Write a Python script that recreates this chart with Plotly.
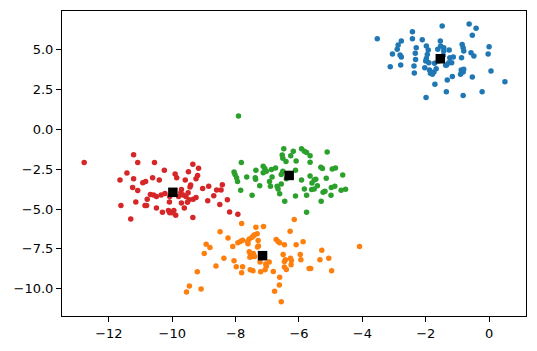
import plotly.graph_objects as go

# Cluster 0 (blue)
blue_x = [-3.53, -2.42, -1.48, -0.63, -0.41, -0.53, -2.42, -2.11, -2.77, -2.87, -2.90, -3.05, -2.81, -2.77,
          -3.12, -2.79, -2.37, -2.36, -2.30, -2.33, -2.32, -1.98, -1.92, -1.99, -1.71, -1.54, -1.53, -1.43,
          -1.62, -1.26, -1.24, -1.13, -1.18, -1.27, -1.34, -0.87, -0.85, -0.82, -0.80, -0.57, -0.48, 0.00,
          -0.03, -0.88, -0.82, -0.90, -0.80, -1.16, -1.32, -0.53, 0.06, 0.50, -1.35, -0.82, -0.22, -1.98,
          -2.00, -1.90, -2.03, -1.88, -1.85, -1.74, -1.67, -1.79, -1.95, -1.37, -1.43, -1.60, -1.45, -1.72]
blue_y = [5.69, 6.13, 6.49, 6.63, 6.36, 5.92, 5.69, 5.63, 5.55, 5.30, 5.03, 4.74, 4.67, 4.55,
          3.94, 4.05, 3.99, 3.55, 5.13, 4.78, 4.40, 5.24, 4.99, 2.01, 2.84, 5.55, 5.24, 5.13,
          5.03, 4.99, 4.51, 4.55, 4.19, 4.19, 4.05, 4.51, 5.34, 5.13, 4.92, 4.82, 4.61, 5.19,
          4.74, 3.74, 3.61, 3.46, 3.78, 3.32, 3.11, 3.30, 3.67, 2.99, 2.36, 2.13, 2.36, 4.46,
          4.30, 4.19, 3.88, 3.74, 3.53, 3.61, 3.82, 3.46, 4.71, 4.03, 4.92, 4.30, 4.65, 4.15]

# Cluster 1 (orange)
orange_x = [-6.15, -6.28, -7.12, -7.36, -7.32, -7.40, -7.81, -8.49, -8.24, -8.09, -8.93, -8.81, -8.99,
            -8.37, -8.62, -9.21, -9.46, -9.55, -9.09, -8.05, -7.98, -7.78, -7.81, -7.54, -7.45, -7.21,
            -7.07, -7.03, -7.05, -6.94, -6.81, -6.61, -6.62, -6.77, -6.56, -6.46, -6.40, -6.46, -6.43,
            -6.50, -6.27, -6.24, -6.25, -5.94, -5.96, -6.09, -5.87, -5.68, -5.63, -5.34, -5.28, -5.06,
            -4.97, -4.09, -6.72, -6.66, -6.61, -6.46, -7.61, -7.57, -7.48, -7.44, -7.29, -7.31, -7.28,
            -7.62, -7.78, -7.85, -7.93, -7.57, -7.53, -7.48, -7.55, -7.44, -7.40, -7.23]
orange_y = [-5.66, -6.39, -6.09, -6.15, -6.55, -6.62, -5.91, -6.43, -6.82, -7.36, -7.22, -7.42, -7.79,
            -8.09, -8.58, -8.94, -9.83, -10.22, -10.03, -8.25, -8.62, -8.62, -9.00, -8.82, -8.88, -8.94,
            -8.82, -8.60, -8.46, -8.33, -8.92, -9.29, -9.77, -10.16, -10.82, -8.64, -8.80, -8.29, -8.19,
            -7.85, -8.09, -8.23, -8.50, -8.19, -7.85, -7.24, -7.06, -8.74, -8.74, -8.19, -7.59, -8.09,
            -8.88, -7.36, -6.92, -7.04, -7.12, -7.24, -7.18, -6.88, -6.78, -6.68, -6.98, -7.38, -7.32,
            -7.04, -6.96, -7.04, -7.12, -7.69, -7.85, -7.99, -8.03, -7.79, -7.99, -8.33]

# Cluster 2 (green)
green_x = [-7.91, -7.82, -8.05, -8.02, -7.97, -7.94, -7.65, -7.84, -7.48, -7.36, -7.38, -7.37, -7.13,
           -7.08, -7.03, -7.13, -7.24, -6.93, -6.90, -6.85, -6.87, -6.74, -6.69, -6.66, -6.61, -6.56,
           -6.56, -6.51, -6.48, -6.53, -6.51, -6.41, -6.26, -6.18, -6.09, -6.11, -6.11, -5.92, -5.83,
           -5.76, -5.65, -5.65, -5.92, -5.83, -5.76, -5.65, -5.59, -5.52, -5.47, -5.42, -5.52, -5.60,
           -5.31, -5.26, -5.14, -5.11, -4.95, -4.85, -4.87, -4.98, -5.24, -5.18, -4.99, -5.30, -4.62,
           -4.67, -4.53, -5.76, -6.45, -6.40]
green_y = [0.85, -2.08, -2.68, -2.83, -3.03, -3.27, -2.99, -3.82, -4.14, -2.56, -3.03, -3.13, -2.32,
           -2.46, -2.62, -2.72, -3.53, -3.27, -3.57, -2.99, -2.52, -2.42, -3.57, -3.74, -4.04, -3.43,
           -2.83, -2.62, -1.21, -1.61, -1.81, -2.02, -1.65, -1.37, -1.98, -2.56, -4.18, -1.21, -1.37,
           -1.45, -1.65, -2.06, -3.17, -3.74, -4.14, -2.93, -3.37, -3.17, -3.13, -3.53, -3.74, -3.78,
           -2.38, -2.46, -3.07, -1.41, -2.48, -2.42, -3.57, -3.64, -3.94, -3.88, -4.14, -4.51, -2.87,
           -3.82, -3.76, -5.21, -4.51, -3.10]

# Cluster 3 (red)
red_x = [-12.78, -11.22, -11.09, -10.56, -11.43, -11.65, -11.22, -11.25, -11.09, -10.93, -10.84, -10.62,
         -10.41, -10.25, -9.91, -9.86, -9.35, -9.17, -9.49, -9.20, -9.25, -9.59, -9.42, -9.44, -9.04,
         -8.85, -8.42, -8.60, -8.46, -8.69, -8.88, -8.26, -8.50, -8.19, -7.93, -9.35, -11.31, -11.62,
         -11.15, -10.86, -10.81, -10.50, -10.31, -10.12, -10.08, -10.00, -9.95, -9.89, -9.62, -9.71,
         -9.52, -9.47, -9.34, -9.25, -10.09, -10.69, -10.59, -10.50, -10.35, -10.23, -10.79, -9.71,
         -9.73, -9.66, -9.57, -9.50, -9.80, -10.08]
red_y = [-2.07, -1.59, -2.07, -2.07, -2.74, -3.17, -3.10, -3.65, -3.83, -3.35, -3.27, -3.04,
         -3.17, -2.56, -2.80, -3.04, -2.19, -2.44, -2.66, -2.90, -3.10, -3.17, -3.49, -3.61, -3.71,
         -3.57, -3.47, -3.81, -3.81, -4.16, -4.48, -4.42, -4.72, -5.19, -5.33, -5.53, -5.63, -4.78,
         -4.56, -4.78, -4.78, -4.93, -5.21, -5.09, -5.23, -5.23, -5.09, -5.39, -4.93, -4.62,
         -4.58, -4.42, -4.38, -4.28, -4.56, -4.08, -4.12, -4.22, -4.12, -4.02, -4.38, -3.77,
         -3.97, -4.12, -4.22, -3.97, -4.22, -4.22]

# Cluster centres
center_x = [-1.54, -7.15, -6.31, -9.98]
center_y = [4.44, -7.93, -2.89, -3.95]

colors = ["#1f77b4", "#ff7f0e", "#2ca02c", "#d62728"]
clusters = [(blue_x, blue_y), (orange_x, orange_y), (green_x, green_y), (red_x, red_y)]

fig = go.Figure()
for (xs, ys), c in zip(clusters, colors):
    fig.add_trace(go.Scatter(x=xs, y=ys, mode="markers",
                             marker=dict(color=c, size=5.5, line=dict(width=0)),
                             showlegend=False))
fig.add_trace(go.Scatter(x=center_x, y=center_y, mode="markers",
                         marker=dict(color="black", size=9.5, symbol="square", line=dict(width=0)),
                         showlegend=False))

x_ticks = [-12, -10, -8, -6, -4, -2, 0]
y_ticks = [5.0, 2.5, 0.0, -2.5, -5.0, -7.5, -10.0]

axis_common = dict(showline=True, linecolor="black", linewidth=1, mirror=True,
                   ticks="outside", ticklen=5, tickwidth=1, tickcolor="black",
                   showgrid=False, zeroline=False,
                   tickfont=dict(family="DejaVu Sans", size=13, color="black"))

fig.update_xaxes(range=[-13.48, 1.165], tickvals=x_ticks,
                 ticktext=[str(v).replace("-", "\u2212") for v in x_ticks], **axis_common)
fig.update_yaxes(range=[-11.72, 7.44], tickvals=y_ticks,
                 ticktext=[f"{v:.1f}".replace("-", "\u2212") for v in y_ticks], **axis_common)

fig.update_layout(width=537, height=351, margin=dict(l=62, r=10, t=10, b=34),
                  plot_bgcolor="white", paper_bgcolor="white")

fig.write_html("out.html")
